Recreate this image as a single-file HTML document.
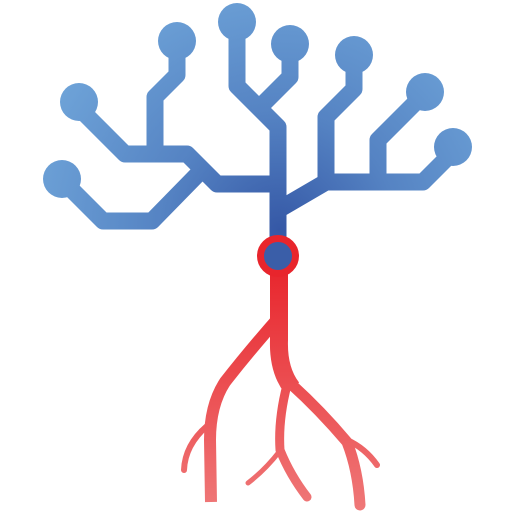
<!DOCTYPE html>
<html><head><meta charset="utf-8"><style>html,body{margin:0;padding:0;background:#fff}svg{display:block}</style></head>
<body>
<svg width="512" height="512" viewBox="0 0 512 512" xmlns="http://www.w3.org/2000/svg">
<defs>
<radialGradient id="bg" gradientUnits="userSpaceOnUse" cx="279" cy="230" r="260">
<stop offset="0" stop-color="#3558a6"/><stop offset="0.45" stop-color="#5583c3"/><stop offset="1" stop-color="#6ea3d8"/>
</radialGradient>
<linearGradient id="rg" gradientUnits="userSpaceOnUse" x1="0" y1="265" x2="0" y2="510">
<stop offset="0" stop-color="#e8252c"/><stop offset="1" stop-color="#ef7878"/>
</linearGradient>
</defs>
<g fill="none" stroke="url(#bg)" stroke-width="17" stroke-linejoin="round">
<path d="M278 256 V127 L237 86 V22"/>
<path d="M259 108 L290 77 V44"/>
<path d="M278 210 L326 182 V117 L354 89 V55"/>
<path d="M326 182 H423 L453 152"/>
<path d="M378 182 V140 L425 93"/>
<path d="M278 184 H217 L187 154 H125 L79 108"/>
<path d="M155 154 V97 L177 75 V41"/>
<path d="M197 175 L152 221 H103 L62 180"/>
</g>
<g fill="url(#bg)">
<circle cx="79" cy="102" r="19"/><circle cx="177" cy="41" r="19"/><circle cx="237" cy="22" r="19"/>
<circle cx="290" cy="44" r="19"/><circle cx="354" cy="55" r="19"/><circle cx="425" cy="92" r="19"/>
<circle cx="453" cy="147" r="19"/><circle cx="62" cy="179" r="19"/>
</g>
<g fill="none" stroke="url(#rg)" stroke-linecap="butt" stroke-linejoin="round">
<path d="M279 268 V340 Q278 370 292 388" stroke-width="18"/>
<path d="M281 315 Q250 350 225 382 Q210 405 210 440 L211 502" stroke-width="12"/>
<path d="M290 383 Q320 410 347 442 Q358 470 360 505" stroke-width="11" stroke-linecap="round"/>
<path d="M287 385 Q278 420 280 450 Q290 475 307 497" stroke-width="9" stroke-linecap="round"/>
<path d="M207 426 Q185 445 184 470" stroke-width="6" stroke-linecap="round"/>
<path d="M347 440 Q365 448 377 465" stroke-width="6" stroke-linecap="round"/>
<path d="M279 452 Q265 470 248 483" stroke-width="5" stroke-linecap="round"/>
</g>
<circle cx="278" cy="256" r="17.5" fill="#3a5ea8" stroke="#e8252c" stroke-width="7"/>
</svg>
</body></html>
